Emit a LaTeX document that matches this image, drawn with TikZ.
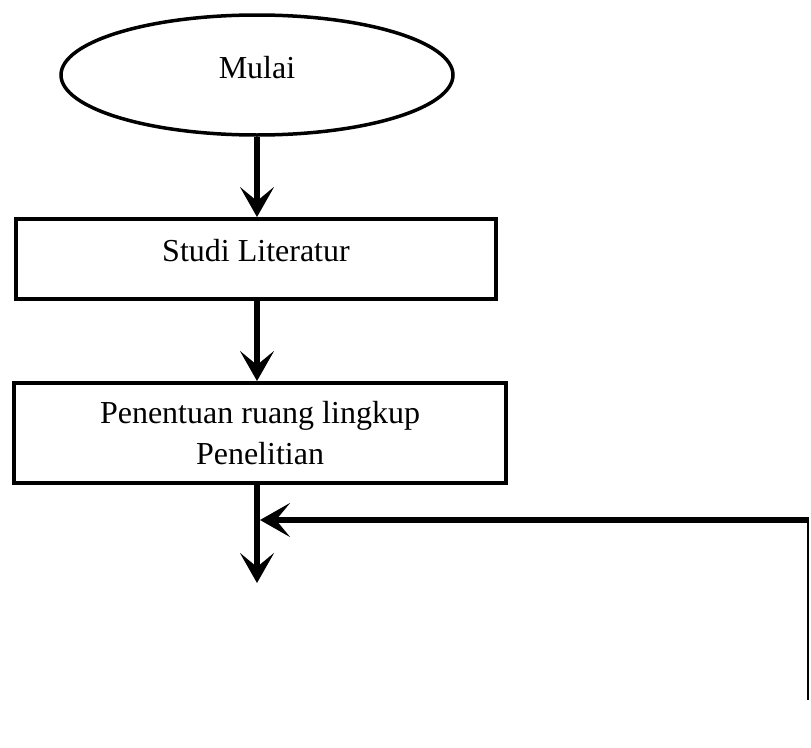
\documentclass[tikz,border=0pt]{standalone}
\usepackage{fontspec}
\setmainfont{Liberation Serif}
\usetikzlibrary{shapes.geometric,arrows.meta}
\begin{document}
\begin{tikzpicture}[x=1pt,y=-1pt,
  startnode/.style={ellipse,draw,line width=3.5pt,minimum width=392pt,minimum height=120pt,inner sep=0pt,
    font=\fontsize{32}{40}\selectfont,text height=22pt,text depth=16pt},
  box/.style={rectangle,draw,line width=4pt,inner sep=0pt,align=center,
    font=\fontsize{32}{41}\selectfont},
  arr/.style={line width=5.5pt,-{Stealth[length=30pt,width=34pt,inset=14pt]}},
  thinline/.style={line width=2pt}]
\useasboundingbox (0,0) rectangle (811,747);
\node[startnode] (start) at (257,75) {Mulai};
\node[box,minimum width=480pt,minimum height=80pt,text height=22pt,text depth=18pt] (s1) at (256,259) {Studi Literatur};
\node[box,minimum width=492pt,minimum height=100pt] (s2) at (260,433) {Penentuan ruang lingkup\\Penelitian};
\coordinate (e3) at (257,583);
\coordinate (fbb) at (808,700);
\coordinate (fbc) at (808,520);
\coordinate (j) at (260,520);
\draw[arr] (start.south) -- (start.south |- s1.north);
\draw[arr] (start.south |- s1.south) -- (start.south |- s2.north);
\draw[arr] (s2.south -| e3) -- (e3);
\draw[thinline] (fbb) -- (fbc);
\draw[arr] ([xshift=1pt]fbc) -- (j);
\end{tikzpicture}
\end{document}
